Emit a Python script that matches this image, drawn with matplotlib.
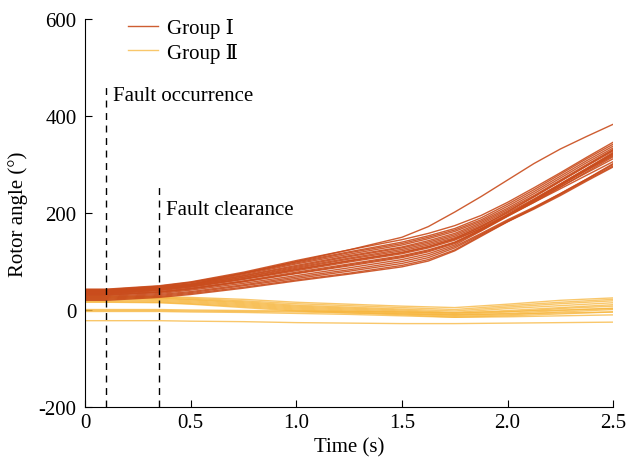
"""Rotor angle trajectories of two coherent generator groups after a fault."""

import matplotlib
matplotlib.use("Agg")
import matplotlib.pyplot as plt

plt.rcParams["font.family"] = ["Liberation Serif", "DejaVu Serif"]
plt.rcParams["axes.unicode_minus"] = False

# time knots (s) for Group I
t1 = [0, 0.1, 0.35, 0.5, 0.75, 1.0, 1.25, 1.5, 1.625, 1.75, 1.875, 2.0, 2.125, 2.25, 2.375, 2.5]
# time knots (s) for Group II
t2 = [0, 0.1, 0.35, 0.5, 0.75, 1.0, 1.25, 1.5, 1.75, 2.0, 2.25, 2.5]

# Group I rotor angles (deg)
group1 = [
    [40, 40, 46, 53, 76, 100, 124, 150, 172, 202, 234, 268, 302, 332, 358, 383],
    [43, 43, 50, 58, 78, 102, 124, 145, 158, 174, 195, 222, 252, 283, 315, 346],
    [42, 42, 49, 57, 76, 99, 120, 140, 153, 168, 190, 218, 248, 280, 312, 342],
    [41, 41, 48, 56, 75, 97, 118, 137, 150, 165, 186, 214, 244, 276, 308, 338],
    [40, 40, 47, 54, 73, 95, 115, 134, 147, 162, 183, 210, 240, 272, 304, 334],
    [39, 39, 46, 53, 71, 92, 112, 130, 143, 158, 180, 207, 236, 268, 300, 331],
    [38, 38, 45, 52, 70, 90, 110, 128, 140, 155, 177, 204, 233, 265, 297, 328],
    [37, 37, 44, 51, 68, 88, 107, 125, 137, 152, 174, 200, 229, 260, 292, 323],
    [36, 36, 43, 50, 67, 86, 105, 122, 134, 149, 171, 197, 226, 257, 289, 320],
    [35, 35, 42, 49, 65, 84, 102, 119, 131, 146, 168, 194, 222, 253, 285, 316],
    [34, 34, 41, 48, 64, 83, 101, 118, 130, 147, 172, 202, 234, 266, 298, 330],
    [33, 33, 40, 47, 63, 81, 99, 116, 128, 144, 168, 196, 226, 258, 290, 322],
    [32, 32, 38, 45, 60, 78, 95, 112, 124, 140, 166, 195, 226, 257, 288, 318],
    [31, 31, 37, 44, 59, 76, 93, 110, 122, 139, 165, 196, 228, 260, 292, 325],
    [30, 30, 36, 43, 58, 75, 91, 108, 120, 137, 164, 194, 224, 254, 283, 312],
    [28, 28, 34, 41, 55, 71, 87, 104, 116, 134, 163, 193, 222, 250, 278, 306],
    [26, 26, 32, 38, 52, 68, 83, 100, 112, 131, 158, 186, 212, 240, 270, 300],
    [24, 24, 30, 36, 50, 65, 80, 96, 108, 128, 156, 184, 210, 238, 268, 297],
    [22, 22, 28, 34, 47, 62, 76, 92, 104, 124, 154, 182, 208, 236, 266, 295],
    [20, 20, 26, 32, 45, 60, 74, 89, 101, 122, 152, 182, 210, 240, 270, 302],
]

# Group II rotor angles (deg)
group2 = [
    [29, 29, 28, 26, 22, 16, 12, 8, 5, 12, 20, 25],
    [28, 28, 27, 24, 19, 13, 9, 5, 1, 9, 16, 22],
    [26, 26, 25, 22, 17, 10, 6, 2, -2, 6, 13, 19],
    [25, 25, 24, 21, 15, 8, 4, 0, -5, 3, 9, 15],
    [23, 23, 22, 19, 13, 6, 2, -2, -7, -1, 5, 11],
    [21, 21, 20, 17, 11, 4, 0, -4, -9, -4, 3, 8],
    [19, 19, 18, 15, 9, 2, -2, -6, -11, -7, -1, 4],
    [17, 17, 16, 13, 7, 0, -4, -8, -13, -10, -4, 1],
    [16, 16, 15, 12, 5, -2, -6, -10, -15, -12, -8, -4],
    [1, 1, 1, 0, -1, -2, -3, -4, -6, -3, 0, 3],
    [-1, -1, -1, -2, -3, -4, -6, -8, -10, -8, -6, -4],
    [-3, -3, -3, -4, -5, -7, -9, -12, -15, -14, -12, -10],
    [-22, -22, -22, -23, -24, -26, -27, -28, -28, -27, -26, -25],
]

FAULT_ON, FAULT_OFF = 0.1, 0.35
C1, C2 = "#c94c1c", "#f7b53a"
FS = 15

fig = plt.figure(figsize=(6.28, 4.60), dpi=100)
ax = fig.add_axes([0.1354, 0.113, 0.841, 0.8435])

for i, y in enumerate(group2):
    ax.plot(t2, y, color=C2, lw=1.0, alpha=0.75, label="Group Ⅱ" if i == 0 else None)
for i, y in enumerate(group1):
    ax.plot(t1, y, color=C1, lw=1.0, alpha=0.9, label="Group Ⅰ" if i == 0 else None)

ax.plot([FAULT_ON, FAULT_ON], [-200, 468], "k--", lw=1.0, dashes=(5, 4))
ax.plot([FAULT_OFF, FAULT_OFF], [-200, 260], "k--", lw=1.0, dashes=(5, 4))
ax.text(0.133, 443, "Fault occurrence", fontsize=FS, va="center")
ax.text(0.384, 208, "Fault clearance", fontsize=FS, va="center")

ax.set_xlim(0, 2.5)
ax.set_ylim(-200, 600)
ax.set_xticks([0, 0.5, 1.0, 1.5, 2.0, 2.5])
ax.set_xticklabels(["0", "0.5", "1.0", "1.5", "2.0", "2.5"])
ax.set_yticks([-200, 0, 200, 400, 600])
ax.set_yticklabels(["-200", "0", "200", "400", "600"])
ax.tick_params(direction="in", length=5, labelsize=FS)
ax.tick_params(axis="x", pad=4)
ax.tick_params(axis="y", pad=6)
ax.spines["top"].set_visible(False)
ax.spines["right"].set_visible(False)
ax.set_xlabel("Time (s)", fontsize=FS, labelpad=4)
ax.set_ylabel("Rotor angle (°)", fontsize=FS, labelpad=8)

handles, labels = ax.get_legend_handles_labels()
order = [labels.index("Group Ⅰ"), labels.index("Group Ⅱ")]
ax.legend([handles[k] for k in order], [labels[k] for k in order],
          loc="upper left", bbox_to_anchor=(0.045, 1.05), frameon=False,
          fontsize=FS, handlelength=1.45, handletextpad=0.45, labelspacing=0.2)

fig.savefig("out.png")
